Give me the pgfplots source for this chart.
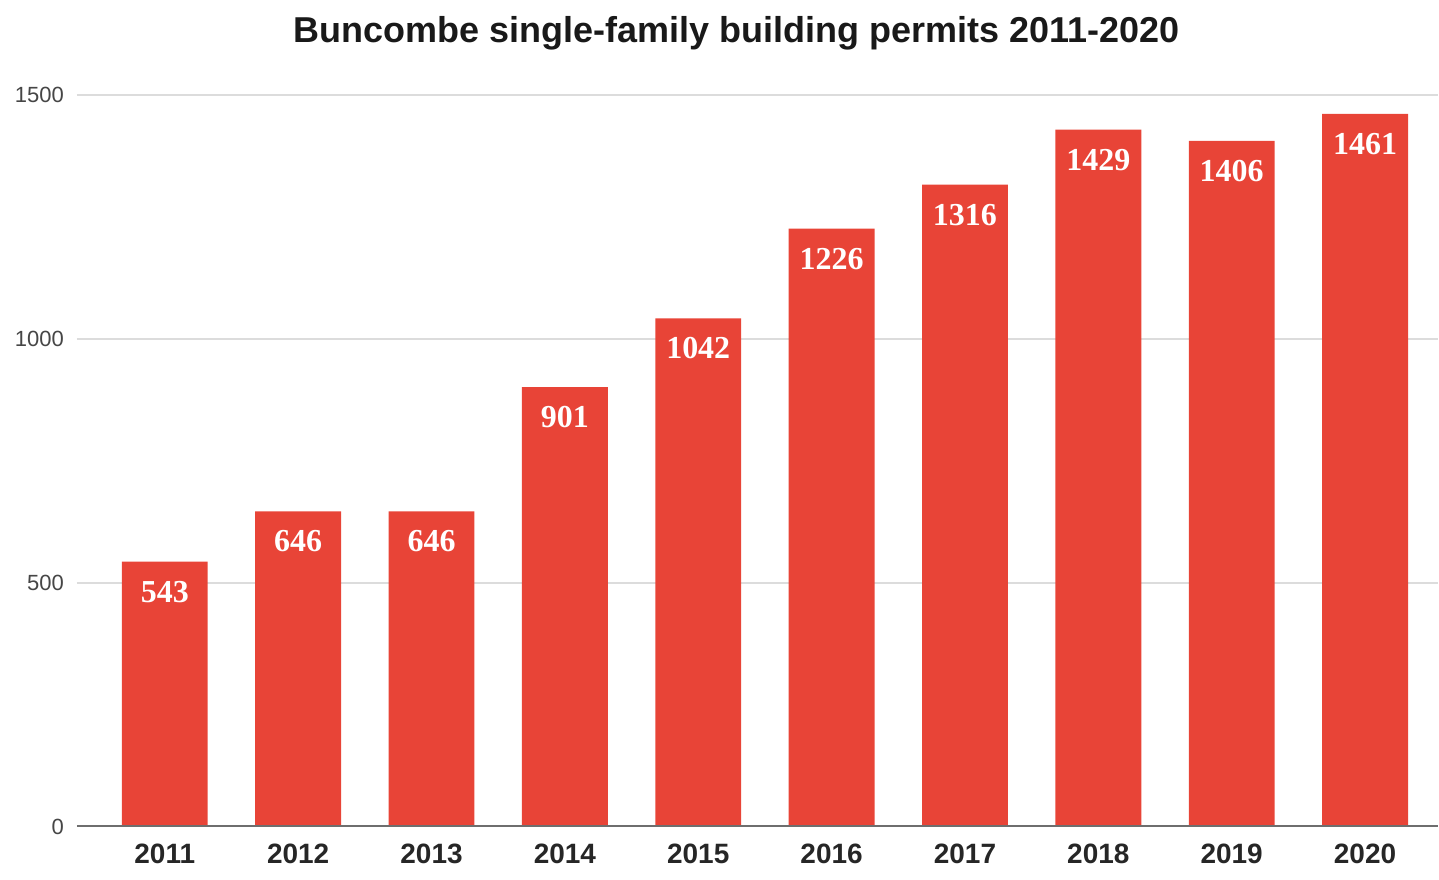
\documentclass[border=0pt]{standalone}
\usepackage{fontspec}
\setmainfont{Liberation Sans}
\newfontfamily\valfont{Liberation Serif}
\usepackage{pgfplots}
\pgfplotsset{compat=1.18}
\definecolor{barred}{RGB}{232,68,55}
\definecolor{gridgray}{RGB}{220,220,220}
\definecolor{basegray}{RGB}{110,110,110}
\definecolor{ticktext}{RGB}{70,70,70}

\begin{document}
\begin{tikzpicture}
\begin{axis}[
    scale only axis,
    width=681pt, height=366pt,
    xmin=-0.659, xmax=9.547,
    ymin=0, ymax=1500,
    ytick={0,500,1000,1500},
    xtick={0,...,9},
    xticklabels={2011,2012,2013,2014,2015,2016,2017,2018,2019,2020},
    axis line style={draw=none},
    major tick length=0pt,
    ymajorgrids,
    grid style={gridgray, line width=0.9pt},
    /pgf/number format/assume math mode=true,
    /pgf/number format/1000 sep={},
    yticklabel style={font=\fontsize{11}{12}\selectfont, text=ticktext, xshift=-3pt},
    xticklabel style={font=\fontsize{14}{16}\selectfont\bfseries, text=black!85, yshift=-5pt},
    clip=false,
]
\addplot[ybar, bar width=0.644, fill=barred, draw=none,
    nodes near coords,
    every node near coord/.append style={font=\fontsize{16}{18}\selectfont\valfont\bfseries,
        text=white, anchor=north, inner sep=0pt, yshift=-9.5pt},
] coordinates {
    (0,543) (1,646) (2,646) (3,901) (4,1042)
    (5,1226) (6,1316) (7,1429) (8,1406) (9,1461)
};
\draw[basegray, line width=1pt] (rel axis cs:0,0) -- (rel axis cs:1,0);
\node[font=\fontsize{18}{20}\selectfont\bfseries, text=black!90] at (rel axis cs:0.4846,1.0847)
    {Buncombe single-family building permits 2011-2020};
\path (rel axis cs:-0.0565,-0.0724) rectangle (rel axis cs:1,1.1298);
\end{axis}
\end{tikzpicture}
\end{document}
